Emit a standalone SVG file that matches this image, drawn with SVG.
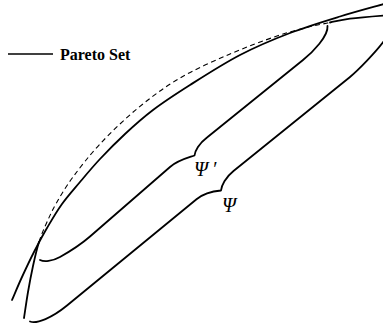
<svg xmlns="http://www.w3.org/2000/svg" width="383" height="325" viewBox="0 0 383 325">
<style>
.s{fill:none;stroke:#000;stroke-width:1.8;stroke-linecap:round;stroke-linejoin:round}
.d{fill:none;stroke:#000;stroke-width:1.1;stroke-dasharray:5 3.5}
.lbl{font-family:"Liberation Serif","Times New Roman",serif;font-style:italic;font-size:20px;fill:#000}
.leg{font-family:"Liberation Serif","Times New Roman",serif;font-weight:bold;font-size:16px;fill:#000}
</style>
<rect width="383" height="325" fill="#fff"/>
<g id="legend">
<line x1="8" y1="54" x2="53" y2="54" stroke="#000" stroke-width="1.6"/>
<text class="leg" x="60" y="60">Pareto Set</text>
</g>
<g id="pareto-outer">
<path class="s" d="M12,300 C13.7,296.2 18.3,285 22,277 C25.7,269 29.8,260.2 34,252 C38.2,243.8 42.3,236 47,228 C51.7,220 56.5,211.7 62,204 C67.5,196.3 73.7,189.5 80,182 C86.3,174.5 92.5,167 100,159 C107.5,151 116.2,142.2 125,134 C133.8,125.8 142.2,118.2 153,110 C163.8,101.8 175.5,94.2 190,85 C204.5,75.8 223.3,63.7 240,55 C256.7,46.3 273.3,39.4 290,33 C306.7,26.6 324.3,21.3 340,16.5 C355.7,11.7 376.7,6.1 384,4"/>
</g>
<g id="boundary">
<path class="s" d="M24,318 C24.7,313.7 26.5,300.7 28,292 C29.5,283.3 31.2,274.3 33,266 C34.8,257.7 36.7,249.3 39,242"/>
<path class="d" d="M39,242 C41.3,234.7 44,228.7 47,222 C50,215.3 52.7,209.5 57,202 C61.3,194.5 65.8,186.7 73,177 C80.2,167.3 89.2,155.5 100,144 C110.8,132.5 124.7,119 138,108 C151.3,97 164.7,87 180,78 C195.3,69 213.8,61 230,54 C246.2,47 264.2,40.4 277,36 C289.8,31.6 298.2,29.75 307,27.5 C315.8,25.25 322.8,24 330,22.5"/>
<path class="s" d="M330,22.5 C337.2,21 341.2,19.9 350,18.7 C358.8,17.5 377.5,16 384,15.5"/>
</g>
<g id="psi-prime">
<path class="s" d="M40,260 C44,262 52,261.5 60,257 C68,252.5 80,245.2 90,236.5 L170,167 C178,160 189,157.5 194.5,155.5 C195,151 199,143.5 207,137.5 L303,60 C313,51.9 328.5,36 327.5,26"/>
<text class="lbl" x="194" y="176">Ψ<tspan dx="4">′</tspan></text>
</g>
<g id="psi">
<path class="s" d="M30,321.5 C37,324 52,317.8 67,305.5 L196.5,199.3 C204.5,192.6 215,191 221,190.5 C221.5,185.5 225.5,177.4 233.5,171 L350,77 C358,70.5 376,52 384,41"/>
<text class="lbl" x="222" y="212">Ψ</text>
</g>
</svg>
